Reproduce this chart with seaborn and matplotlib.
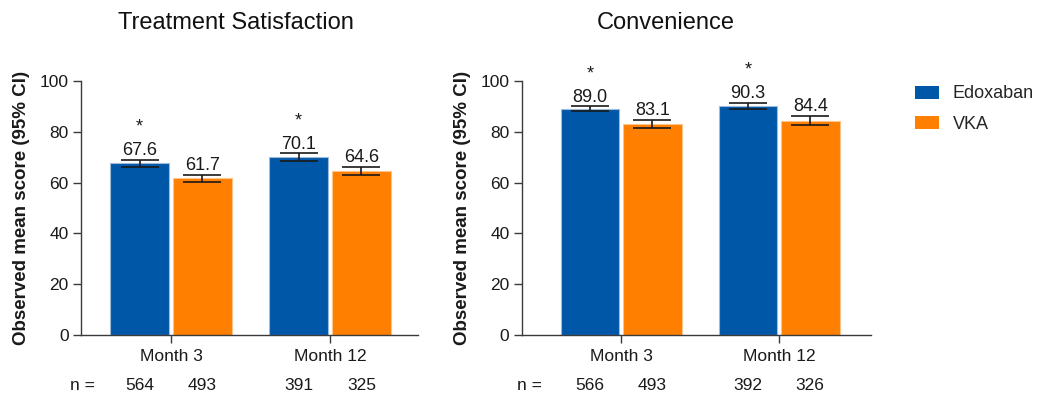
import matplotlib
matplotlib.use("Agg")
import matplotlib.pyplot as plt
import matplotlib.transforms as mtransforms
from matplotlib.patches import Patch
import pandas as pd
import seaborn as sns

# ---- data -------------------------------------------------------------
months = ["Month 3", "Month 12"]
treatments = ["Edoxaban", "VKA"]

ts_edoxaban = [67.6, 70.1]
ts_vka = [61.7, 64.6]
ts_edoxaban_lo = [66.2, 68.7]
ts_edoxaban_hi = [69.0, 71.5]
ts_vka_lo = [60.4, 62.9]
ts_vka_hi = [63.0, 66.3]
ts_n_edoxaban = [564, 391]
ts_n_vka = [493, 325]

conv_edoxaban = [89.0, 90.3]
conv_vka = [83.1, 84.4]
conv_edoxaban_lo = [88.0, 89.1]
conv_edoxaban_hi = [90.0, 91.5]
conv_vka_lo = [81.6, 82.5]
conv_vka_hi = [84.6, 86.3]
conv_n_edoxaban = [566, 392]
conv_n_vka = [493, 326]

significant = {"Edoxaban": [True, True], "VKA": [False, False]}

colors = {"Edoxaban": "#0057A8", "VKA": "#FF7F00"}
edge_colors = {"Edoxaban": "#9DB9DC", "VKA": "#FFC48A"}

sns.set_theme(style="ticks")
plt.rcParams["font.family"] = ["Liberation Sans", "DejaVu Sans"]

W, H = 1039, 397
fig = plt.figure(figsize=(W / 100, H / 100), dpi=100)


def px_axes(x0, x1, y_top, y_bot):
    return fig.add_axes([x0 / W, (H - y_bot) / H, (x1 - x0) / W, (y_bot - y_top) / H])


panels = [
    dict(title="Treatment Satisfaction", title_x=236, box=(81, 418), xlim=(-0.566, 1.553),
         vals={"Edoxaban": ts_edoxaban, "VKA": ts_vka},
         lo={"Edoxaban": ts_edoxaban_lo, "VKA": ts_vka_lo},
         hi={"Edoxaban": ts_edoxaban_hi, "VKA": ts_vka_hi},
         n={"Edoxaban": ts_n_edoxaban, "VKA": ts_n_vka}, n_label_x=82),
    dict(title="Convenience", title_x=666, box=(522, 871), xlim=(-0.627, 1.582),
         vals={"Edoxaban": conv_edoxaban, "VKA": conv_vka},
         lo={"Edoxaban": conv_edoxaban_lo, "VKA": conv_vka_lo},
         hi={"Edoxaban": conv_edoxaban_hi, "VKA": conv_vka_hi},
         n={"Edoxaban": conv_n_edoxaban, "VKA": conv_n_vka}, n_label_x=529),
]

spine_color = "#3a3a3a"

for p in panels:
    ax = px_axes(p["box"][0], p["box"][1], 81, 335)
    df = pd.DataFrame({
        "month": months * 2,
        "treatment": [t for t in treatments for _ in months],
        "score": p["vals"]["Edoxaban"] + p["vals"]["VKA"],
    })
    sns.barplot(data=df, x="month", y="score", hue="treatment", order=months,
                hue_order=treatments, palette=colors, width=0.79, gap=0.06,
                errorbar=None, legend=False, ax=ax, saturation=1)

    for t, cont in zip(treatments, ax.containers):
        for j, bar in enumerate(cont):
            bar.set_edgecolor(edge_colors[t])
            bar.set_linewidth(0.8)
            xc = bar.get_x() + bar.get_width() / 2
            v = p["vals"][t][j]
            lo, hi = p["lo"][t][j], p["hi"][t][j]
            ax.errorbar([xc], [v], yerr=[[v - lo], [hi - v]],
                        fmt="none", ecolor="#1a1a1a", elinewidth=1.2,
                        capsize=13.5, capthick=1.2, zorder=5)
            ax.annotate(f"{v:.1f}", (xc, hi), xytext=(0, 3.5), textcoords="offset points",
                        ha="center", va="baseline", fontsize=13, color="#1a1a1a")
            if significant[t][j]:
                ax.annotate("*", (xc, hi), xytext=(0, 20), textcoords="offset points",
                            ha="center", va="baseline", fontsize=13, color="#1a1a1a")
            # sample size under each bar
            trans = mtransforms.blended_transform_factory(ax.transData, fig.transFigure)
            ax.text(xc, (H - 385) / H, f"{p['n'][t][j]}", transform=trans,
                    ha="center", va="center", fontsize=12.5, color="#1a1a1a")

    fig.text(p["n_label_x"] / W, (H - 385) / H, "n =", ha="center", va="center",
             fontsize=12.5, color="#1a1a1a")

    ax.set_xlim(*p["xlim"])
    ax.set_ylim(0, 100)
    ax.set_yticks([0, 20, 40, 60, 80, 100])
    ax.set_xlabel("")
    ax.set_ylabel("Observed mean score (95% CI)", fontsize=13.5, fontweight="bold",
                  color="#1a1a1a", labelpad=7)
    ax.tick_params(axis="y", labelsize=12.5, length=6, width=1, color=spine_color,
                   pad=3, labelcolor="#1a1a1a")
    ax.tick_params(axis="x", labelsize=12.5, length=6, width=1, color=spine_color,
                   pad=4, labelcolor="#1a1a1a")
    sns.despine(ax=ax)
    for s in ("left", "bottom"):
        ax.spines[s].set_color(spine_color)
        ax.spines[s].set_linewidth(1)
    ax.set_facecolor("white")

    fig.text(p["title_x"] / W, (H - 23) / H, p["title"], ha="center", va="center",
             fontsize=17, color="#111111")

handles = [Patch(facecolor=colors[t], edgecolor="none", label=t) for t in treatments]
fig.legend(handles=handles, loc="upper left", bbox_to_anchor=(910 / W, (H - 80) / H),
           frameon=False, fontsize=13, handlelength=1.3, handleheight=0.75,
           handletextpad=0.75, labelspacing=0.75, borderpad=0.3, borderaxespad=0)

fig.savefig("out.png", dpi=100, facecolor="white")
